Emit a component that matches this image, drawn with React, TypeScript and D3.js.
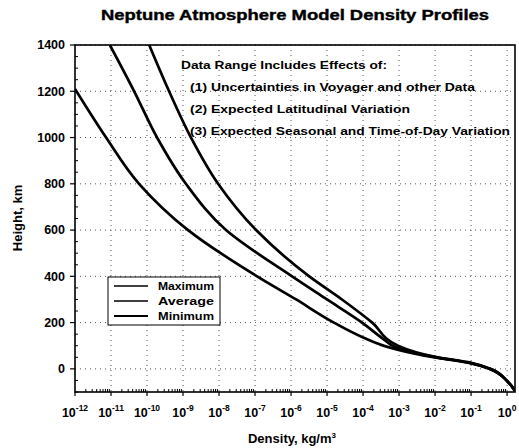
import React from 'react'
import * as d3 from 'd3'

// heights in km, densities in kg/m^3
const maxHeights = [1400, 1200, 1000, 800, 600, 400, 300, 200, 100, 52, 26, 0, -52, -100]
const maxDensity = [1.15e-10, 4.1e-10, 1.66e-9, 9.4e-9, 1.07e-7, 3.2e-6, 2.6e-5, 1.8e-4, 9.3e-4, 1.0e-2, 1.0e-1, 3.4e-1, 1.0, 1.75]

const avgHeights = [1400, 1200, 1000, 800, 600, 400, 300, 200, 130, 95, 51, 25, 0, -52, -100]
const avgDensity = [9.3e-12, 4.4e-11, 1.9e-10, 1.2e-9, 1.56e-8, 1.07e-6, 1.0e-5, 9.4e-5, 3.6e-4, 7.7e-4, 1.0e-2, 1.0e-1, 3.35e-1, 1.0, 1.73]

const minHeights = [1210, 1000, 800, 600, 400, 300, 200, 136, 92, 49, 24, 0, -52, -100]
const minDensity = [1.0e-12, 7.3e-12, 6.0e-11, 1.38e-9, 1.14e-7, 1.38e-6, 1.55e-5, 1.0e-4, 5.6e-4, 1.0e-2, 1.0e-1, 3.3e-1, 1.0, 1.72]

const decades = d3.range(-12, 1)
const heightTicks = [0, 200, 400, 600, 800, 1000, 1200, 1400]
const legendLabels = ['Maximum', 'Average', 'Minimum']
const noteLines = [
  'Data Range Includes Effects of:',
  '(1) Uncertainties in Voyager and other Data',
  '(2) Expected Latitudinal Variation',
  '(3) Expected Seasonal and Time-of-Day Variation',
]
const noteWidths = [206, 285, 220, 320]

export default function App() {
  const width = 519, height = 448
  const margin = {top: 45, right: 4, bottom: 56, left: 75}
  const w = width - margin.left - margin.right
  const h = height - margin.top - margin.bottom

  const xScale = d3.scaleLog().domain([1e-12, Math.pow(10, 0.22)]).range([0, w])
  const yScale = d3.scaleLinear().domain([-100, 1400]).range([h, 0])

  const line = d3.line<[number, number]>()
    .x(d => xScale(d[0]))
    .y(d => yScale(d[1]))
    .curve(d3.curveMonotoneY)

  const series = [
    {name: 'Maximum', hs: maxHeights, ds: maxDensity},
    {name: 'Average', hs: avgHeights, ds: avgDensity},
    {name: 'Minimum', hs: minHeights, ds: minDensity},
  ]

  const minorX: number[] = []
  decades.slice(0, -1).forEach(e => {
    for (let k = 2; k < 10; k++) minorX.push(k * Math.pow(10, e))
  })
  const minorY = d3.range(-100, 1401, 50).filter(v => v % 200 !== 0)

  const font = '"Liberation Sans", Arial, sans-serif'
  const grid = {stroke: '#555', strokeWidth: 1, strokeDasharray: '1,4'}

  return (
    <svg width={width} height={height} style={{position: 'absolute', left: 0, top: 0, background: '#fff'}}
      fontFamily={font} fontWeight="bold">
      <defs>
        <clipPath id="plot"><rect x={0} y={0} width={w} height={h} /></clipPath>
      </defs>
      <text x={295} y={20} textAnchor="middle" fontSize={15} textLength={388} lengthAdjust="spacingAndGlyphs"
        stroke="#000" strokeWidth={0.4}>Neptune Atmosphere Model Density Profiles</text>

      <g transform={'translate(' + margin.left + ',' + margin.top + ')'}>
        {decades.slice(1).map(e => (
          <line key={'gx' + e} x1={xScale(Math.pow(10, e))} x2={xScale(Math.pow(10, e))} y1={0} y2={h} {...grid} />
        ))}
        {heightTicks.map(t => (
          <line key={'gy' + t} x1={0} x2={w} y1={yScale(t)} y2={yScale(t)} {...grid} />
        ))}

        <g clipPath="url(#plot)">
          {series.map(s => (
            <path key={s.name} d={line(s.hs.map((v, i) => [s.ds[i], v]) as [number, number][]) || ''}
              fill="none" stroke="#000" strokeWidth={2.7} strokeLinejoin="round" />
          ))}
        </g>

        <rect x={0} y={0} width={w} height={h} fill="none" stroke="#000" strokeWidth={1.6} />

        {/* x axis ticks */}
        {decades.map(e => (
          <g key={'xt' + e} transform={'translate(' + xScale(Math.pow(10, e)) + ',' + h + ')'}>
            <line y1={0} y2={4} stroke="#000" strokeWidth={1.2} />
            <text y={25} textAnchor="middle" fontSize={12.5}>
              10<tspan dy={-6} fontSize={8.5}>{e}</tspan>
            </text>
          </g>
        ))}
        {minorX.map((v, i) => (
          <line key={'mx' + i} x1={xScale(v)} x2={xScale(v)} y1={h} y2={h - 3} stroke="#000" strokeWidth={1} />
        ))}

        {/* y axis ticks */}
        {heightTicks.map(t => (
          <g key={'yt' + t} transform={'translate(0,' + yScale(t) + ')'}>
            <line x1={-5} x2={0} stroke="#000" strokeWidth={1.2} />
            <text x={-10} dy="0.35em" textAnchor="end" fontSize={12.5}>{t}</text>
          </g>
        ))}
        {minorY.map(t => (
          <line key={'my' + t} x1={0} x2={3} y1={yScale(t)} y2={yScale(t)} stroke="#000" strokeWidth={1} />
        ))}

        {/* legend */}
        <g transform="translate(33,232)">
          <rect x={0} y={0} width={112} height={48} fill="#fff" stroke="#000" strokeWidth={1} />
          {legendLabels.map((l, i) => (
            <g key={l} transform={'translate(0,' + (9 + i * 15) + ')'}>
              <line x1={6} x2={40} stroke="#000" strokeWidth={i === 2 ? 2.2 : 1.6} />
              <text x={50} dy="0.35em" fontSize={11.5} textLength={56} lengthAdjust="spacingAndGlyphs">{l}</text>
            </g>
          ))}
        </g>

        {/* note */}
        {noteLines.map((l, i) => (
          <text key={i} x={i === 0 ? 106 : 115} y={24 + i * 22} fontSize={11.5}
            textLength={noteWidths[i]} lengthAdjust="spacingAndGlyphs">{l}</text>
        ))}
      </g>

      <text transform="translate(22,218) rotate(-90)" textAnchor="middle" fontSize={13}>Height, km</text>
      <text x={292} y={443} textAnchor="middle" fontSize={13}>
        Density, kg/m<tspan dy={-5} fontSize={8}>3</tspan>
      </text>
    </svg>
  )
}
